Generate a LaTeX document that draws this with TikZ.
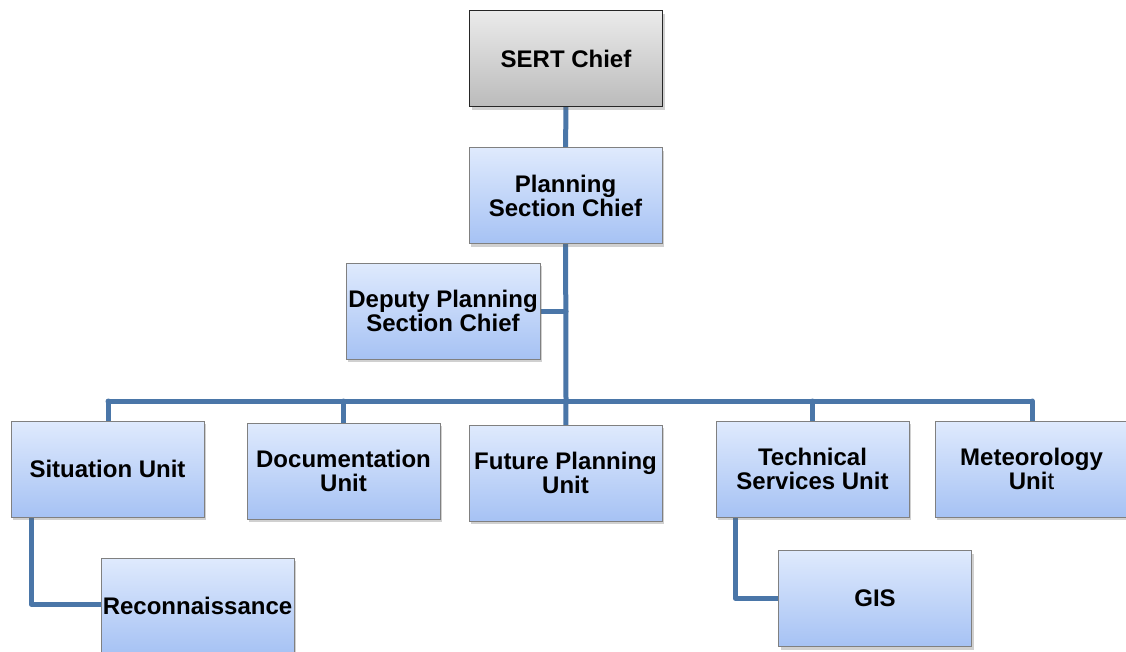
\documentclass[tikz,border=0pt]{standalone}
\usepackage{fontspec}
\setmainfont{Liberation Sans}
\usetikzlibrary{shadows,backgrounds}
\definecolor{linkblue}{HTML}{4A76A8}
\definecolor{boxtop}{HTML}{DFEAFD}
\definecolor{boxbot}{HTML}{A6C2F4}
\definecolor{greytop}{HTML}{EBEBEB}
\definecolor{greybot}{HTML}{BBBBBB}
\tikzset{
  unitbox/.style={draw=black!50, line width=1pt, top color=boxtop, bottom color=boxbot,
    minimum width=193pt, minimum height=96pt, inner sep=0pt, align=center,
    font=\fontsize{24}{24}\selectfont\bfseries,
    drop shadow={shadow xshift=2pt, shadow yshift=-3pt, opacity=0.3, fill=black!60}},
  chiefbox/.style={unitbox, draw=black!85, line width=1.5pt, top color=greytop, bottom color=greybot},
  link/.style={draw=linkblue, line width=5pt, line cap=round, line join=round}
}
\begin{document}
\begin{tikzpicture}[x=1pt,y=-1pt]
\useasboundingbox (0,0) rectangle (1126,651);
\coordinate (bus) at (566,401);
\coordinate (busL) at (108,401);
\coordinate (busR) at (1032,401);
\coordinate (rc) at (31,604);
\coordinate (gc) at (735,598);

\node[chiefbox] (sert) at (566,58.5) {SERT Chief};
\node[unitbox] (psc) at (565.5,195.5) {Planning\\Section Chief};
\node[unitbox, minimum width=194pt] (dep) at (443,311) {Deputy Planning\\Section Chief};
\node[unitbox] (sit) at (107.5,469) {Situation Unit};
\node[unitbox] (doc) at (343.5,471) {Documentation\\Unit};
\node[unitbox] (fut) at (565.5,473) {Future Planning\\Unit};
\node[unitbox] (tech) at (812.5,469) {Technical\\Services Unit};
\node[unitbox] (met) at (1031.5,469) {Meteorology\\Uni{\mdseries t}};
\node[unitbox] (rec) at (197.5,606) {Reconnaissance};
\node[unitbox] (gis) at (875,598.5) {GIS};

\begin{scope}[on background layer]
\fill[white] (0,0) rectangle (1126,651);
\path[link] (sert.center) -- (psc.center);
\path[link] (psc.center) -- (bus);
\path[link] (dep.center) -- (dep.center -| bus);
\path[link] (busL) -- (busR);
\path[link] (busL) -- (sit.center -| busL);
\path[link] (doc.center) -- (doc.center |- bus);
\path[link] (fut.center) -- (bus);
\path[link] (tech.center) -- (tech.center |- bus);
\path[link] (busR) -- (met.center -| busR);
\path[link] (sit.center -| rc) -- (rc) -- (rec.center |- rc);
\path[link] (tech.center -| gc) -- (gc) -- (gis.center |- gc);
\end{scope}
\end{tikzpicture}
\end{document}
